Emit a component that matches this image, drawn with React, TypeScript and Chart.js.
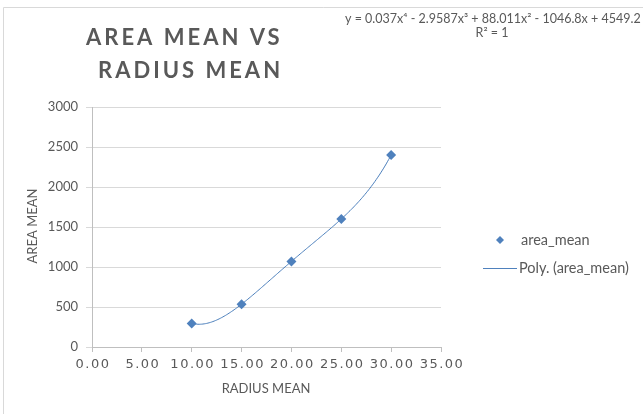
import React, { useEffect, useRef } from "react";
import { Chart, registerables } from "chart.js";

Chart.register(...registerables);

// Mean radius buckets and their mean area
const radiusMean = [10, 15, 20, 25, 30];
const areaMean = [295, 535, 1070, 1600, 2400];

const xTicks = [0, 5, 10, 15, 20, 25, 30, 35];
const yTicks = [0, 500, 1000, 1500, 2000, 2500, 3000];

const titleLines = ["AREA MEAN VS", "RADIUS MEAN"];
const equationText = "y = 0.037x\u2074 - 2.9587x\u00b3 + 88.011x\u00b2 - 1046.8x + 4549.2";
const rSquaredText = "R\u00b2 = 1";
const xAxisTitle = "RADIUS MEAN";
const yAxisTitle = "AREA MEAN";
const seriesLabel = "area_mean";
const trendLabel = "Poly. (area_mean)";

const W = 643;
const H = 414;
const BLUE = "#4f81bd";
const TEXT = "#595959";

// Least-squares polynomial fit (order 4 trendline) via normal equations
function polyFit(xs: number[], ys: number[], order: number): number[] {
  const n = order + 1;
  const A: number[][] = [];
  for (let r = 0; r < n; r++) {
    const row: number[] = [];
    for (let c = 0; c < n; c++) {
      let s = 0;
      for (let i = 0; i < xs.length; i++) s += Math.pow(xs[i], r + c);
      row.push(s);
    }
    let b = 0;
    for (let i = 0; i < xs.length; i++) b += ys[i] * Math.pow(xs[i], r);
    row.push(b);
    A.push(row);
  }
  for (let col = 0; col < n; col++) {
    let piv = col;
    for (let r = col + 1; r < n; r++) if (Math.abs(A[r][col]) > Math.abs(A[piv][col])) piv = r;
    [A[col], A[piv]] = [A[piv], A[col]];
    for (let r = 0; r < n; r++) {
      if (r === col) continue;
      const f = A[r][col] / A[col][col];
      for (let c = col; c <= n; c++) A[r][c] -= f * A[col][c];
    }
  }
  return A.map((row, i) => row[n] / row[i]);
}

function trendPoints() {
  const coef = polyFit(radiusMean, areaMean, 4);
  const lo = Math.min(...radiusMean);
  const hi = Math.max(...radiusMean);
  const pts: { x: number; y: number }[] = [];
  const steps = 160;
  for (let k = 0; k <= steps; k++) {
    const x = lo + ((hi - lo) * k) / steps;
    let y = 0;
    for (let p = coef.length - 1; p >= 0; p--) y = y * x + coef[p];
    pts.push({ x, y });
  }
  return pts;
}

const overlay = {
  id: "overlay",
  afterDraw(chart: any) {
    const ctx = chart.ctx as CanvasRenderingContext2D;
    ctx.save();

    // outer frame (left and top edges)
    ctx.strokeStyle = "#d9d9d9";
    ctx.lineWidth = 1;
    ctx.beginPath();
    ctx.moveTo(3.5, H);
    ctx.lineTo(3.5, 7.5);
    ctx.lineTo(W, 7.5);
    ctx.stroke();

    // title
    ctx.fillStyle = TEXT;
    ctx.font = "bold 22px Lato";
    (ctx as any).letterSpacing = "3px";
    ctx.textAlign = "left";
    ctx.textBaseline = "alphabetic";
    ctx.fillText(titleLines[0], 86, 45);
    ctx.fillText(titleLines[1], 98, 78);
    (ctx as any).letterSpacing = "0px";

    // trendline equation
    ctx.font = "12.5px Lato";
    ctx.textAlign = "left";
    ctx.textBaseline = "middle";
    ctx.fillText(equationText, 345, 19);
    ctx.textAlign = "center";
    ctx.fillText(rSquaredText, 492, 33);

    // x tick labels
    const xs = chart.scales.x;
    ctx.font = "13px 'DejaVu Sans'";
    (ctx as any).letterSpacing = "1.5px";
    ctx.textAlign = "center";
    ctx.textBaseline = "middle";
    xs.ticks.forEach((t: any) => {
      ctx.fillText(Number(t.value).toFixed(2), xs.getPixelForValue(t.value) + 1, 365);
    });
    (ctx as any).letterSpacing = "0px";

    // axis titles
    ctx.font = "13px Lato";
    ctx.fillText(xAxisTitle, 266, 389);
    ctx.save();
    ctx.translate(33, 226);
    ctx.rotate(-Math.PI / 2);
    ctx.fillText(yAxisTitle, 0, 0);
    ctx.restore();

    // legend
    ctx.fillStyle = BLUE;
    ctx.beginPath();
    ctx.moveTo(500, 236);
    ctx.lineTo(504, 240);
    ctx.lineTo(500, 244);
    ctx.lineTo(496, 240);
    ctx.closePath();
    ctx.fill();
    ctx.strokeStyle = BLUE;
    ctx.lineWidth = 1;
    ctx.beginPath();
    ctx.moveTo(483, 268.5);
    ctx.lineTo(517, 268.5);
    ctx.stroke();
    ctx.fillStyle = TEXT;
    ctx.font = "14.5px Lato";
    ctx.textAlign = "left";
    ctx.fillText(seriesLabel, 521, 240);
    ctx.fillText(trendLabel, 519, 268);

    ctx.restore();
  },
};

export default function App() {
  const ref = useRef<HTMLCanvasElement>(null);

  useEffect(() => {
    if (!ref.current) return;
    const chart = new Chart(ref.current, {
      type: "scatter",
      data: {
        datasets: [
          {
            label: seriesLabel,
            data: radiusMean.map((x, i) => ({ x, y: areaMean[i] })),
            pointStyle: "rectRot",
            pointRadius: 5,
            backgroundColor: BLUE,
            borderColor: BLUE,
            borderWidth: 0,
            showLine: false,
            order: 0,
          },
          {
            label: trendLabel,
            data: trendPoints(),
            showLine: true,
            pointRadius: 0,
            borderColor: "#4a7ebb",
            borderWidth: 1,
            fill: false,
            order: 1,
          },
        ],
      },
      options: {
        responsive: false,
        animation: false,
        devicePixelRatio: 1,
        layout: { padding: { left: 0, top: 107, right: W - 441, bottom: 0 } },
        plugins: {
          legend: { display: false },
          title: { display: false },
          tooltip: { enabled: false },
        },
        scales: {
          x: {
            type: "linear",
            min: xTicks[0],
            max: xTicks[xTicks.length - 1],
            afterBuildTicks: (s: any) => {
              s.ticks = xTicks.map((v) => ({ value: v }));
            },
            afterFit: (s: any) => {
              s.height = 67;
            },
            ticks: { color: "rgba(0,0,0,0)", font: { size: 13 } },
            grid: { drawOnChartArea: false, drawTicks: true, tickLength: 5, color: "#bfbfbf" },
            border: { color: "#bfbfbf" },
          },
          y: {
            type: "linear",
            min: yTicks[0],
            max: yTicks[yTicks.length - 1],
            afterBuildTicks: (s: any) => {
              s.ticks = yTicks.map((v) => ({ value: v }));
            },
            afterFit: (s: any) => {
              s.width = 92;
            },
            ticks: {
              color: TEXT,
              padding: 8,
              font: { family: "Lato", size: 13 },
              callback: (v: any) => String(v),
            },
            grid: { color: "#d9d9d9", tickLength: 6 },
            border: { color: "#bfbfbf" },
          },
        },
      },
      plugins: [overlay],
    });
    return () => chart.destroy();
  }, []);

  return (
    <div style={{ position: "fixed", left: 0, top: 0, width: W, height: H, background: "#fff" }}>
      <canvas ref={ref} width={W} height={H} style={{ width: W, height: H, display: "block" }} />
    </div>
  );
}
